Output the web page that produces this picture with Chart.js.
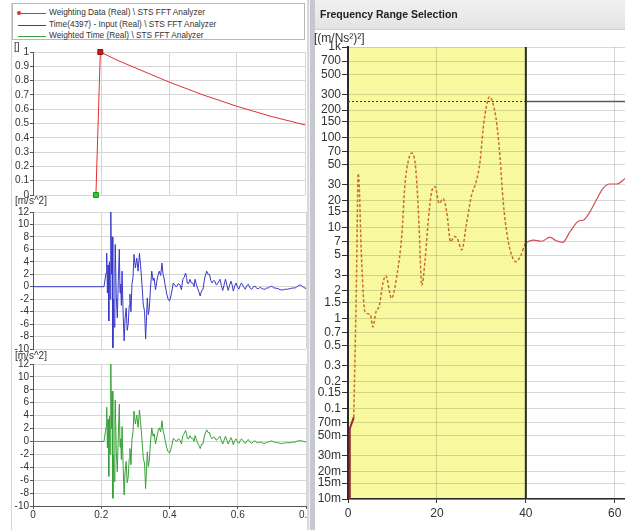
<!DOCTYPE html>
<html lang="en">
<head>
<meta charset="utf-8" />
<title>Weighting and frequency range</title>
<script src="https://cdn.jsdelivr.net/npm/chart.js@4.4.0/dist/chart.umd.min.js"></script>
<style>
  body { margin: 0; width: 625px; height: 530px; position: relative; overflow: hidden; background: #fff;
         font-family: "Liberation Sans", Arial, sans-serif; color: #333; }
  canvas, .abs { position: absolute; }
  #legend { left: 12px; top: 3px; width: 293px; height: 37px; border: 1px solid #b8b8b8; box-sizing: border-box; }
  .row { position: absolute; left: 36px; font-size: 8.3px; white-space: nowrap; color: #333; }
  .swatch { position: absolute; left: 5px; width: 28px; height: 1px; }
  .unit { font-size: 10px; color: #333; white-space: nowrap; }
  #sep { left: 307px; top: 0; width: 8px; height: 530px;
         background: linear-gradient(to right, #d8d8d8 0 2px, #f2f2f2 2px 3px, #c5c9cd 3px); }
  #titlebar { left: 315px; top: 0; width: 310px; height: 29px; background: linear-gradient(#f1f1f1, #e3e3e3);
              border-bottom: 1px solid #cfcfcf; }
  #titlebar span { position: absolute; left: 5px; top: 8px; font-size: 10.5px; font-weight: bold; color: #222; }
</style>
</head>
<body>

<div class="abs" style="left:11px;top:3px;width:1px;height:527px;background:#d4d4d4"></div>
<div id="legend" class="abs">
  <div class="swatch" style="top:9px;background:#e03030"></div>
  <div class="abs" style="left:4px;top:7px;width:4px;height:4px;border-radius:2px;background:#e03030"></div>
  <div class="row" style="top:3px">Weighting Data (Real) \ STS FFT Analyzer</div>
  <div class="swatch" style="top:21px;background:#3838c8"></div>
  <div class="row" style="top:15px">Time(4397) - Input (Real) \ STS FFT Analyzer</div>
  <div class="swatch" style="top:32px;background:#38a038"></div>
  <div class="row" style="top:26px">Weighted Time (Real) \ STS FFT Analyzer</div>
</div>

<canvas id="weightCanvas" width="310" height="162" style="left:0;top:40px"></canvas>
<canvas id="inputCanvas" width="310" height="156" style="left:0;top:200px"></canvas>
<canvas id="weightedCanvas" width="310" height="178" style="left:0;top:352px"></canvas>

<div class="abs unit" style="left:14px;top:41px">[]</div>
<div class="abs unit" style="left:15px;top:195px">[m/s^2]</div>
<div class="abs unit" style="left:15px;top:350px">[m/s^2]</div>

<div id="sep" class="abs"></div>
<div id="titlebar" class="abs"><span>Frequency Range Selection</span></div>
<div class="abs" style="left:314px;top:31px;font-size:12px;color:#333">[(m/Ns²)²]</div>
<canvas id="spectrumCanvas" width="312" height="502" style="left:313px;top:28px"></canvas>

<script>
// ---- time signals (s, m/s^2) ----
var times = [0, 0.208, 0.212, 0.214, 0.216, 0.218, 0.220, 0.222, 0.224, 0.226,
  0.228, 0.230, 0.232, 0.234, 0.236, 0.238, 0.240, 0.241, 0.244, 0.247,
  0.250, 0.253, 0.255, 0.257, 0.259, 0.261, 0.264, 0.267, 0.270, 0.273,
  0.276, 0.279, 0.282, 0.284, 0.287, 0.290, 0.293, 0.296, 0.300, 0.304,
  0.308, 0.312, 0.315, 0.318, 0.321, 0.323, 0.327, 0.330, 0.333, 0.335,
  0.338, 0.341, 0.344, 0.348, 0.352, 0.355, 0.359, 0.363, 0.367, 0.370,
  0.374, 0.378, 0.381, 0.384, 0.388, 0.392, 0.396, 0.400, 0.404, 0.407,
  0.411, 0.416, 0.421, 0.426, 0.431, 0.435, 0.439, 0.443, 0.447, 0.450,
  0.452, 0.456, 0.460, 0.464, 0.468, 0.472, 0.475, 0.478, 0.482, 0.486,
  0.490, 0.494, 0.498, 0.503, 0.509, 0.513, 0.517, 0.521, 0.525, 0.529,
  0.533, 0.537, 0.540, 0.544, 0.548, 0.552, 0.556, 0.560, 0.564, 0.568,
  0.572, 0.576, 0.580, 0.584, 0.587, 0.591, 0.595, 0.599, 0.603, 0.607,
  0.611, 0.617, 0.622, 0.627, 0.631, 0.636, 0.641, 0.646, 0.651, 0.656,
  0.661, 0.666, 0.671, 0.676, 0.680, 0.685, 0.690, 0.695, 0.700, 0.705,
  0.710, 0.715, 0.719, 0.724, 0.729, 0.734, 0.739, 0.746, 0.754, 0.761,
  0.768, 0.776, 0.783, 0.788, 0.793, 0.800];

var inputValues = [0, 0, 1.5, 2.2, 5.4, -1.0, 3.5, -5.5, 4.0, -2.0,
  12.1, 2.0, 8.0, -9.8, -2.0, -6.5, 3.0, 6.8, -1.5, -5.0,
  1.0, 6.0, -1.0, 0.4, -3.0, 2.5, -4.0, -8.7, -5.0, -3.4,
  -7.0, -6.0, -3.0, -1.2, -4.0, 0.4, 1.5, 5.2, 3.0, 4.6,
  2.5, 5.4, 3.5, 1.4, -1.0, -2.8, -4.0, -8.4, -4.5, -1.8,
  -4.5, -3.4, -0.5, 2.5, 1.0, 1.4, -0.5, 0.9, 2.0, 2.5,
  1.8, 3.8, 2.0, 1.4, 0, -1.2, -2.0, -2.3, -1.5, -0.7,
  0.6, 0.2, 0, 0.5, 0.3, -0.5, 1.2, 1.5, 2.2, 1.5,
  0.6, 0.5, 1.2, 0.6, 0.6, 0, 1.2, 0.5, -0.2, -0.8,
  -1.5, -0.6, -0.5, 1.4, 2.5, 2.0, 2.0, 1.0, 0.6, 1.0,
  0.9, 0.3, 0.4, 0.8, 1.2, 0.2, -0.6, 0.3, 1.2, 0.3,
  -0.6, 0.2, 0.9, 0.2, -0.7, 0.1, 0.6, 0, -0.4, 0.2,
  0.6, 0, -0.4, 0.2, 0.4, -0.2, -0.4, 0, 0.1, -0.3,
  -0.3, -0.1, -0.3, -0.4, -0.4, -0.2, -0.2, 0, 0.1, -0.2,
  -0.2, -0.3, -0.3, -0.5, -0.5, -0.5, -0.4, -0.4, -0.3, -0.2,
  -0.2, 0.1, 0.3, 0.1, -0.1, -0.3];

var weightedValues = [0, 0, 1.5, 2.2, 5.3, -1.0, 3.4, -5.4, 3.9, -2.0,
  12.0, 2.0, 7.8, -8.8, -2.0, -6.2, 2.9, 6.4, -1.4, -4.7,
  0.9, 5.8, -0.9, 0.4, -2.8, 2.3, -3.7, -8.3, -4.6, -3.1,
  -6.4, -5.5, -2.7, -1.1, -3.6, 0.4, 1.4, 4.7, 2.7, 4.1,
  2.2, 4.9, 3.1, 1.2, -0.9, -2.5, -3.5, -7.3, -3.9, -1.6,
  -3.9, -2.9, -0.4, 2.1, 0.8, 1.2, -0.4, 0.7, 1.7, 2.1,
  1.5, 3.2, 1.7, 1.1, 0, -1.0, -1.6, -1.8, -1.2, -0.6,
  0.5, 0.2, 0, 0.4, 0.2, -0.4, 0.9, 1.2, 1.7, 1.2,
  0.5, 0.4, 0.9, 0.5, 0.5, 0, 0.9, 0.4, -0.2, -0.6,
  -1.1, -0.4, -0.4, 1.0, 1.8, 1.4, 1.4, 0.7, 0.4, 0.7,
  0.6, 0.2, 0.3, 0.6, 0.8, 0.1, -0.4, 0.2, 0.8, 0.2,
  -0.4, 0.1, 0.6, 0.1, -0.5, 0.1, 0.4, 0, -0.3, 0.1,
  0.4, 0, -0.3, 0.1, 0.3, -0.1, -0.3, 0, 0.1, -0.2,
  -0.2, -0.1, -0.2, -0.3, -0.3, -0.1, -0.1, 0, 0.1, -0.1,
  -0.1, -0.2, -0.2, -0.3, -0.3, -0.3, -0.2, -0.2, -0.2, -0.1,
  -0.1, 0.1, 0.1, 0.1, 0, -0.1];

// ---- weighting window ----
var weightTimes = [0.185, 0.198, 0.25, 0.3, 0.35, 0.4, 0.45, 0.5, 0.55, 0.6, 0.65, 0.7, 0.75, 0.8];
var weightValues = [0, 1, 0.94, 0.89, 0.84, 0.79, 0.745, 0.70, 0.66, 0.62, 0.585, 0.55, 0.52, 0.49];

// ---- spectrum (Hz, (m/Ns²)²) ----
var lowFreq = [0.35, 0.4, 1.3];
var lowValues = [0.01, 0.06, 0.08];
var selFreq = [1.3, 1.9, 2.3, 3.1, 3.8, 5.0, 5.6, 6.3, 7.0, 7.9, 8.5, 9.8, 11.0, 12.1, 12.8, 13.6, 14.3, 15.1, 15.6,
  16.0, 16.6, 17.3, 18.1, 18.8, 19.6, 20.5, 21.4, 22.2, 23.1, 23.9, 24.6, 25.6, 26.6, 27.8, 28.8, 29.7, 30.4,
  31.2, 31.8, 32.6, 33.5, 34.2, 34.9, 35.8, 36.8, 37.8, 38.9, 39.8, 40.3];
var selValues = [0.08, 2.5, 40, 3.9, 1.18, 1.1, 0.8, 1.18, 1.35, 2.5, 2.95, 1.66, 2.98, 8.3, 30, 56, 67, 52, 25,
  9.9, 2.3, 4.2, 12.7, 25, 28.5, 18.6, 21, 15, 7, 8, 7.6, 5.7, 10.7, 23, 32, 54, 126,
  228, 282, 238, 137, 59, 19.5, 8.3, 5, 4.2, 5, 6.5, 7];
var restFreq = [40.3, 41.7, 43.6, 45.4, 46.6, 48.3, 49.9, 51.8, 53.1, 54.4, 56.0, 57.4, 58.9, 60.5, 62.3];
var restValues = [7, 7.3, 7.1, 7.9, 7.3, 6.9, 9, 11.8, 12.3, 15, 21, 27.5, 30.5, 30.5, 35];

var rangeStart = 0, rangeEnd = 40, threshold = 250;
var freqTicks = [0, 20, 40, 60];
var specTickValues = [1000, 700, 500, 300, 200, 150, 100, 70, 50, 30, 20, 15, 10, 7, 5, 3, 2, 1.5, 1,
  0.7, 0.5, 0.3, 0.2, 0.15, 0.1, 0.07, 0.05, 0.03, 0.02, 0.015, 0.01];
var specTickLabels = ['1k', '700', '500', '300', '200', '150', '100', '70', '50', '30', '20', '15', '10', '7', '5',
  '3', '2', '1.5', '1', '0.7', '0.5', '0.3', '0.2', '0.15', '0.1', '70m', '50m', '30m', '20m', '15m', '10m'];

function pts(xs, ys) {
  return xs.map(function (x, i) { return { x: x, y: ys[i] }; });
}

function plainNumber(v) {
  return String(+v.toFixed(2));
}

var tickFont = { family: '"Liberation Sans", Arial, sans-serif', size: 10 };

function leftChart(id, datasets, yMin, yMax, yStep, showX, padBottom) {
  return new Chart(document.getElementById(id), {
    type: 'line',
    data: { datasets: datasets },
    options: {
      responsive: false, animation: false, events: [],
      layout: { padding: { left: 0, right: 4, top: 12, bottom: padBottom } },
      plugins: { legend: { display: false }, tooltip: { enabled: false } },
      elements: { point: { radius: 0 }, line: { borderWidth: 1, tension: 0 } },
      scales: {
        x: {
          type: 'linear', min: 0, max: 0.8,
          ticks: { display: showX, stepSize: 0.2, color: '#333', font: tickFont, padding: 0, maxRotation: 0,
                   autoSkip: false, callback: plainNumber },
          grid: { color: '#d6d6d6', drawTicks: showX, tickLength: 3, tickColor: '#555' },
          border: { display: showX, color: '#555' },
          afterFit: function (s) { s.height = showX ? 24 : 0; s.paddingLeft = 0; s.paddingRight = 0; }
        },
        y: {
          min: yMin, max: yMax,
          ticks: { stepSize: yStep, color: '#333', font: tickFont, padding: 1, autoSkip: false,
                   callback: plainNumber },
          grid: { color: '#d6d6d6', tickLength: 3, tickColor: '#555' },
          border: { color: '#555' },
          afterFit: function (s) { s.width = 33; }
        }
      }
    }
  });
}

leftChart('weightCanvas', [{
  data: pts(weightTimes, weightValues),
  borderColor: '#e03030',
  clip: false,
  pointStyle: 'rect',
  pointRadius: weightTimes.map(function (t, i) { return i < 2 ? 3.5 : 0; }),
  pointBackgroundColor: ['#28d028', '#cc1818'],
  pointBorderColor: ['#189018', '#901010']
}], 0, 1, 0.1, false, 5);

leftChart('inputCanvas', [{
  data: pts(times, inputValues), borderColor: '#3838c8'
}], -10, 12, 2, false, 6);

leftChart('weightedCanvas', [{
  data: pts(times, weightedValues), borderColor: '#38a038'
}], -10, 12, 2, true, 0);

// yellow checkered band for the selected range
function bandPattern(ctx) {
  var c = document.createElement('canvas');
  c.width = 4; c.height = 4;
  var p = c.getContext('2d');
  p.fillStyle = '#f7f79e';
  p.fillRect(0, 0, 4, 4);
  p.fillStyle = '#fdfdcc';
  p.fillRect(0, 0, 1, 1);
  p.fillRect(2, 2, 1, 1);
  return ctx.createPattern(c, 'repeat');
}

var rangePlugin = {
  id: 'rangeBand',
  beforeDraw: function (chart) {
    var ctx = chart.ctx, a = chart.chartArea, x = chart.scales.x;
    var x0 = x.getPixelForValue(rangeStart), x1 = x.getPixelForValue(rangeEnd);
    ctx.save();
    ctx.fillStyle = bandPattern(ctx);
    ctx.fillRect(x0, a.top, x1 - x0, a.bottom - a.top);
    ctx.restore();
  },
  afterDatasetsDraw: function (chart) {
    var ctx = chart.ctx, a = chart.chartArea, x = chart.scales.x, y = chart.scales.y;
    var x0 = x.getPixelForValue(rangeStart), x1 = x.getPixelForValue(rangeEnd);
    var ty = Math.round(y.getPixelForValue(threshold)) + 0.5;
    ctx.save();
    ctx.strokeStyle = '#3a3a3a';
    ctx.lineWidth = 1;
    ctx.setLineDash([2, 2]);
    ctx.beginPath(); ctx.moveTo(x0, ty); ctx.lineTo(x1, ty); ctx.stroke();
    ctx.setLineDash([]);
    ctx.strokeStyle = '#5a5a66';
    ctx.lineWidth = 1.5;
    ctx.beginPath(); ctx.moveTo(x1, ty); ctx.lineTo(a.right, ty); ctx.stroke();
    ctx.strokeStyle = '#2a2a2a';
    ctx.lineWidth = 2;
    ctx.beginPath(); ctx.moveTo(x1, a.top); ctx.lineTo(x1, a.bottom); ctx.stroke();
    ctx.restore();
  }
};

var specFont = { family: '"Liberation Sans", Arial, sans-serif', size: 12 };

new Chart(document.getElementById('spectrumCanvas'), {
  type: 'line',
  data: {
    datasets: [
      { data: pts(lowFreq, lowValues), borderColor: '#a02828', borderWidth: 2 },
      { data: pts(selFreq, selValues), borderColor: '#c8702c', borderWidth: 1.5, borderDash: [3, 2],
        cubicInterpolationMode: 'monotone' },
      { data: pts(restFreq, restValues), borderColor: '#d05058', borderWidth: 1.2,
        cubicInterpolationMode: 'monotone' }
    ]
  },
  options: {
    responsive: false, animation: false, events: [],
    layout: { padding: { left: 0, right: 0, top: 19, bottom: 7 } },
    plugins: { legend: { display: false }, tooltip: { enabled: false } },
    elements: { point: { radius: 0 } },
    scales: {
      x: {
        type: 'linear', min: 0, max: 62.3,
        afterBuildTicks: function (s) { s.ticks = freqTicks.map(function (v) { return { value: v }; }); },
        ticks: { color: '#333', font: specFont, padding: 3, maxRotation: 0, autoSkip: false },
        grid: { color: 'rgba(0,0,0,0.15)', tickLength: 4, tickColor: '#333' },
        border: { color: '#2a2a2a', width: 1.5 },
        afterFit: function (s) { s.height = 24; s.paddingLeft = 0; s.paddingRight = 0; }
      },
      y: {
        type: 'logarithmic', min: 0.01, max: 1000,
        afterBuildTicks: function (s) { s.ticks = specTickValues.map(function (v) { return { value: v }; }); },
        ticks: {
          color: '#333', font: specFont, padding: 1, autoSkip: false,
          callback: function (v, i) { return specTickLabels[i]; }
        },
        grid: { color: 'rgba(0,0,0,0.15)', tickLength: 6, tickColor: '#333' },
        border: { color: '#2a2a2a', width: 2 },
        afterFit: function (s) { s.width = 35; }
      }
    }
  },
  plugins: [rangePlugin]
});
</script>
</body>
</html>
